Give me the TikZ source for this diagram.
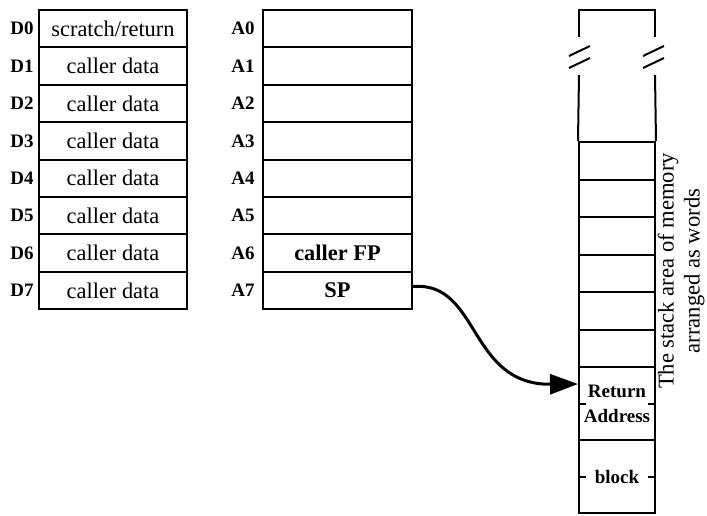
\documentclass[tikz,border=0pt]{standalone}
\usepackage{fontspec}
\setmainfont{Liberation Serif}
\usetikzlibrary{arrows.meta,positioning}

\begin{document}
\begin{tikzpicture}[x=0.5pt, y=-0.5pt,
  every node/.style={font=\fontsize{11.2}{13}\selectfont},
  reg/.style={draw, line width=1pt, minimum width=74pt,
              minimum height=18.7pt, inner sep=0pt},
  lbl/.style={font=\fontsize{9.5}{11}\selectfont\bfseries, inner sep=0pt},
  word/.style={draw, line width=1pt, minimum width=38pt,
               minimum height=18.75pt, inner sep=0pt},
  wall/.style={line width=1pt},
  arr/.style={-{Triangle[length=14pt,width=10pt]}, line width=1.5pt}
]
\useasboundingbox (0,0) rectangle (707,515);

%% data registers
\foreach \i/\t in {0/scratch\slash return,1/caller data,2/caller data,3/caller data,
                   4/caller data,5/caller data,6/caller data,7/caller data}
{
  \node[reg] (d\i) at (113,{28.7+37.4*\i}) {\t};
  \node[lbl] (dl\i) at (22,{28.7+37.4*\i}) {D\i};
}

%% address registers
\foreach \i in {0,...,7}
{
  \node[reg, minimum width=74.5pt] (a\i) at (337.5,{28.7+37.4*\i}) {};
  \node[lbl] (al\i) at (243,{28.7+37.4*\i}) {A\i};
}
\node[font=\fontsize{11.2}{13}\selectfont\bfseries] at (a6) {caller FP};
\node[font=\fontsize{11.2}{13}\selectfont\bfseries] at (a7) {SP};

%% stack words
\foreach \i in {1,...,6}
  \node[word] (s\i) at (617,{123.25+37.5*\i}) {};
\node[word, minimum height=36.5pt, align=center,
      font=\fontsize{9.5}{12.5}\selectfont\bfseries]
  (ret) at (617,403.5) {Return\\Address};
\node[word, minimum height=36.5pt, font=\fontsize{9.5}{12}\selectfont\bfseries]
  (blk) at (617,476.5) {block};

% open top with break marks
\draw[wall] (579,37) -- (579,10) -- (655,10) -- (655,37);
\draw[wall] (579,75) -- (s1.north west);
\draw[wall] (655,75) -- (s1.north east);
\foreach \x in {569,643}
{
  \draw[wall] (\x,56) -- ++(21,-10);
  \draw[wall] (\x,68) -- ++(21,-10);
}

% word ticks
\foreach \c in {ret,blk}
{
  \draw[wall] (\c.west) -- ++(4pt,0);
  \draw[wall] (\c.east) -- ++(-4pt,0);
}

\node[rotate=90, align=center, font=\fontsize{11.3}{13}\selectfont]
  (cap) at (681,271) {The stack area of memory\\arranged as words};

%% stack pointer
\draw[arr] ([yshift=2pt]a7.east) .. controls (480,281) and (468,385)
  .. ([yshift=-9pt]ret.north west);

\end{tikzpicture}
\end{document}
